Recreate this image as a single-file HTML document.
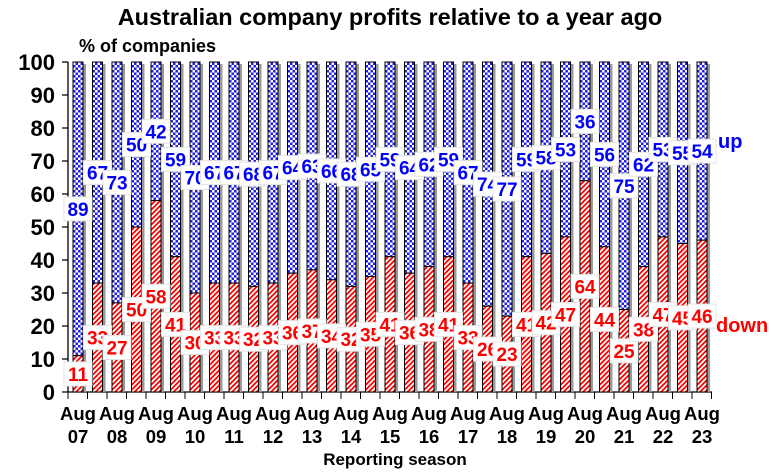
<!DOCTYPE html>
<html><head><meta charset="utf-8"><style>
body{margin:0;background:#fff}
svg{display:block;font-family:"Liberation Sans",Arial,sans-serif;font-weight:bold}
.s{fill:#999}
.u{fill:url(#chk);stroke:#000;stroke-width:1}
.d{fill:url(#str);stroke:#000;stroke-width:1}
.lb rect{fill:#fff;stroke:#e4e4e4;stroke-width:1}
.lb text{font-size:19px;text-anchor:middle}
.r text{fill:#f00}.b text{fill:#00f}
.ax{font-size:22px;text-anchor:end}
.xl{font-size:18.5px;text-anchor:middle}
</style></head><body>
<svg width="777" height="473" viewBox="0 0 777 473">
<defs>
<pattern id="chk" width="5" height="5" patternUnits="userSpaceOnUse"><rect width="5" height="5" fill="#fff"/><rect width="2.5" height="2.5" fill="#2020e0"/><rect x="2.5" y="2.5" width="2.5" height="2.5" fill="#2020e0"/></pattern>
<pattern id="str" width="5" height="5" patternUnits="userSpaceOnUse"><rect width="5" height="5" fill="#fff"/><path d="M-1,6 L6,-1 M-1,1 L1,-1 M4,6 L6,4" stroke="#f00" stroke-width="1.8"/></pattern>
<g id="sh"><rect class="s" x="-2" y="64" width="10" height="328"/></g>
</defs>
<text x="390" y="25" font-size="23.5" text-anchor="middle">Australian company profits relative to a year ago</text>
<text x="79" y="52" font-size="18">% of companies</text>
<g class="ax">
<text x="55" y="70">100</text><text x="55" y="103">90</text><text x="55" y="136">80</text><text x="55" y="169">70</text><text x="55" y="202">60</text><text x="55" y="235">50</text><text x="55" y="268">40</text><text x="55" y="301">30</text><text x="55" y="334">20</text><text x="55" y="367">10</text><text x="55" y="400">0</text>
</g>
<path d="M68,62V392M62,62H68M62,95H68M62,128H68M62,161H68M62,194H68M62,227H68M62,260H68M62,293H68M62,326H68M62,359H68M62,392H712" stroke="#000" stroke-width="1.3" fill="none"/>
<g id="bars">
<g transform="translate(78,0)"><use href="#sh"/><rect class="u" x="-5" y="62" width="10" height="293.7"/><rect class="d" x="-5" y="355.7" width="10" height="36.3"/></g>
<g transform="translate(97.5,0)"><use href="#sh"/><rect class="u" x="-5" y="62" width="10" height="221.1"/><rect class="d" x="-5" y="283.1" width="10" height="108.9"/></g>
<g transform="translate(117,0)"><use href="#sh"/><rect class="u" x="-5" y="62" width="10" height="240.9"/><rect class="d" x="-5" y="302.9" width="10" height="89.1"/></g>
<g transform="translate(136.5,0)"><use href="#sh"/><rect class="u" x="-5" y="62" width="10" height="165"/><rect class="d" x="-5" y="227" width="10" height="165"/></g>
<g transform="translate(156,0)"><use href="#sh"/><rect class="u" x="-5" y="62" width="10" height="138.6"/><rect class="d" x="-5" y="200.6" width="10" height="191.4"/></g>
<g transform="translate(175.5,0)"><use href="#sh"/><rect class="u" x="-5" y="62" width="10" height="194.7"/><rect class="d" x="-5" y="256.7" width="10" height="135.3"/></g>
<g transform="translate(195,0)"><use href="#sh"/><rect class="u" x="-5" y="62" width="10" height="231"/><rect class="d" x="-5" y="293" width="10" height="99"/></g>
<g transform="translate(214.5,0)"><use href="#sh"/><rect class="u" x="-5" y="62" width="10" height="221.1"/><rect class="d" x="-5" y="283.1" width="10" height="108.9"/></g>
<g transform="translate(234,0)"><use href="#sh"/><rect class="u" x="-5" y="62" width="10" height="221.1"/><rect class="d" x="-5" y="283.1" width="10" height="108.9"/></g>
<g transform="translate(253.5,0)"><use href="#sh"/><rect class="u" x="-5" y="62" width="10" height="224.4"/><rect class="d" x="-5" y="286.4" width="10" height="105.6"/></g>
<g transform="translate(273,0)"><use href="#sh"/><rect class="u" x="-5" y="62" width="10" height="221.1"/><rect class="d" x="-5" y="283.1" width="10" height="108.9"/></g>
<g transform="translate(292.5,0)"><use href="#sh"/><rect class="u" x="-5" y="62" width="10" height="211.2"/><rect class="d" x="-5" y="273.2" width="10" height="118.8"/></g>
<g transform="translate(312,0)"><use href="#sh"/><rect class="u" x="-5" y="62" width="10" height="207.9"/><rect class="d" x="-5" y="269.9" width="10" height="122.1"/></g>
<g transform="translate(331.5,0)"><use href="#sh"/><rect class="u" x="-5" y="62" width="10" height="217.8"/><rect class="d" x="-5" y="279.8" width="10" height="112.2"/></g>
<g transform="translate(351,0)"><use href="#sh"/><rect class="u" x="-5" y="62" width="10" height="224.4"/><rect class="d" x="-5" y="286.4" width="10" height="105.6"/></g>
<g transform="translate(370.5,0)"><use href="#sh"/><rect class="u" x="-5" y="62" width="10" height="214.5"/><rect class="d" x="-5" y="276.5" width="10" height="115.5"/></g>
<g transform="translate(390,0)"><use href="#sh"/><rect class="u" x="-5" y="62" width="10" height="194.7"/><rect class="d" x="-5" y="256.7" width="10" height="135.3"/></g>
<g transform="translate(409.5,0)"><use href="#sh"/><rect class="u" x="-5" y="62" width="10" height="211.2"/><rect class="d" x="-5" y="273.2" width="10" height="118.8"/></g>
<g transform="translate(429,0)"><use href="#sh"/><rect class="u" x="-5" y="62" width="10" height="204.6"/><rect class="d" x="-5" y="266.6" width="10" height="125.4"/></g>
<g transform="translate(448.5,0)"><use href="#sh"/><rect class="u" x="-5" y="62" width="10" height="194.7"/><rect class="d" x="-5" y="256.7" width="10" height="135.3"/></g>
<g transform="translate(468,0)"><use href="#sh"/><rect class="u" x="-5" y="62" width="10" height="221.1"/><rect class="d" x="-5" y="283.1" width="10" height="108.9"/></g>
<g transform="translate(487.5,0)"><use href="#sh"/><rect class="u" x="-5" y="62" width="10" height="244.2"/><rect class="d" x="-5" y="306.2" width="10" height="85.8"/></g>
<g transform="translate(507,0)"><use href="#sh"/><rect class="u" x="-5" y="62" width="10" height="254.1"/><rect class="d" x="-5" y="316.1" width="10" height="75.9"/></g>
<g transform="translate(526.5,0)"><use href="#sh"/><rect class="u" x="-5" y="62" width="10" height="194.7"/><rect class="d" x="-5" y="256.7" width="10" height="135.3"/></g>
<g transform="translate(546,0)"><use href="#sh"/><rect class="u" x="-5" y="62" width="10" height="191.4"/><rect class="d" x="-5" y="253.4" width="10" height="138.6"/></g>
<g transform="translate(565.5,0)"><use href="#sh"/><rect class="u" x="-5" y="62" width="10" height="174.9"/><rect class="d" x="-5" y="236.9" width="10" height="155.1"/></g>
<g transform="translate(585,0)"><use href="#sh"/><rect class="u" x="-5" y="62" width="10" height="118.8"/><rect class="d" x="-5" y="180.8" width="10" height="211.2"/></g>
<g transform="translate(604.5,0)"><use href="#sh"/><rect class="u" x="-5" y="62" width="10" height="184.8"/><rect class="d" x="-5" y="246.8" width="10" height="145.2"/></g>
<g transform="translate(624,0)"><use href="#sh"/><rect class="u" x="-5" y="62" width="10" height="247.5"/><rect class="d" x="-5" y="309.5" width="10" height="82.5"/></g>
<g transform="translate(643.5,0)"><use href="#sh"/><rect class="u" x="-5" y="62" width="10" height="204.6"/><rect class="d" x="-5" y="266.6" width="10" height="125.4"/></g>
<g transform="translate(663,0)"><use href="#sh"/><rect class="u" x="-5" y="62" width="10" height="174.9"/><rect class="d" x="-5" y="236.9" width="10" height="155.1"/></g>
<g transform="translate(682.5,0)"><use href="#sh"/><rect class="u" x="-5" y="62" width="10" height="181.5"/><rect class="d" x="-5" y="243.5" width="10" height="148.5"/></g>
<g transform="translate(702,0)"><use href="#sh"/><rect class="u" x="-5" y="62" width="10" height="178.2"/><rect class="d" x="-5" y="240.2" width="10" height="151.8"/></g>
</g>
<g class="lb">
<g class="r" transform="translate(78,373.9)"><rect x="-14" y="-12" width="28" height="24"/><text y="7">11</text></g>
<g class="b" transform="translate(78,208.9)"><rect x="-14" y="-12" width="28" height="24"/><text y="7">89</text></g>
<g class="r" transform="translate(97.5,337.6)"><rect x="-14" y="-12" width="28" height="24"/><text y="7">33</text></g>
<g class="b" transform="translate(97.5,172.6)"><rect x="-14" y="-12" width="28" height="24"/><text y="7">67</text></g>
<g class="r" transform="translate(117,347.5)"><rect x="-14" y="-12" width="28" height="24"/><text y="7">27</text></g>
<g class="b" transform="translate(117,182.5)"><rect x="-14" y="-12" width="28" height="24"/><text y="7">73</text></g>
<g class="r" transform="translate(136.5,309.5)"><rect x="-14" y="-12" width="28" height="24"/><text y="7">50</text></g>
<g class="b" transform="translate(136.5,144.5)"><rect x="-14" y="-12" width="28" height="24"/><text y="7">50</text></g>
<g class="r" transform="translate(156,296.3)"><rect x="-14" y="-12" width="28" height="24"/><text y="7">58</text></g>
<g class="b" transform="translate(156,131.3)"><rect x="-14" y="-12" width="28" height="24"/><text y="7">42</text></g>
<g class="r" transform="translate(175.5,324.4)"><rect x="-14" y="-12" width="28" height="24"/><text y="7">41</text></g>
<g class="b" transform="translate(175.5,159.4)"><rect x="-14" y="-12" width="28" height="24"/><text y="7">59</text></g>
<g class="r" transform="translate(195,342.5)"><rect x="-14" y="-12" width="28" height="24"/><text y="7">30</text></g>
<g class="b" transform="translate(195,177.5)"><rect x="-14" y="-12" width="28" height="24"/><text y="7">70</text></g>
<g class="r" transform="translate(214.5,337.6)"><rect x="-14" y="-12" width="28" height="24"/><text y="7">33</text></g>
<g class="b" transform="translate(214.5,172.6)"><rect x="-14" y="-12" width="28" height="24"/><text y="7">67</text></g>
<g class="r" transform="translate(234,337.6)"><rect x="-14" y="-12" width="28" height="24"/><text y="7">33</text></g>
<g class="b" transform="translate(234,172.6)"><rect x="-14" y="-12" width="28" height="24"/><text y="7">67</text></g>
<g class="r" transform="translate(253.5,339.2)"><rect x="-14" y="-12" width="28" height="24"/><text y="7">32</text></g>
<g class="b" transform="translate(253.5,174.2)"><rect x="-14" y="-12" width="28" height="24"/><text y="7">68</text></g>
<g class="r" transform="translate(273,337.6)"><rect x="-14" y="-12" width="28" height="24"/><text y="7">33</text></g>
<g class="b" transform="translate(273,172.6)"><rect x="-14" y="-12" width="28" height="24"/><text y="7">67</text></g>
<g class="r" transform="translate(292.5,332.6)"><rect x="-14" y="-12" width="28" height="24"/><text y="7">36</text></g>
<g class="b" transform="translate(292.5,167.6)"><rect x="-14" y="-12" width="28" height="24"/><text y="7">64</text></g>
<g class="r" transform="translate(312,331)"><rect x="-14" y="-12" width="28" height="24"/><text y="7">37</text></g>
<g class="b" transform="translate(312,166)"><rect x="-14" y="-12" width="28" height="24"/><text y="7">63</text></g>
<g class="r" transform="translate(331.5,335.9)"><rect x="-14" y="-12" width="28" height="24"/><text y="7">34</text></g>
<g class="b" transform="translate(331.5,170.9)"><rect x="-14" y="-12" width="28" height="24"/><text y="7">66</text></g>
<g class="r" transform="translate(351,339.2)"><rect x="-14" y="-12" width="28" height="24"/><text y="7">32</text></g>
<g class="b" transform="translate(351,174.2)"><rect x="-14" y="-12" width="28" height="24"/><text y="7">68</text></g>
<g class="r" transform="translate(370.5,334.3)"><rect x="-14" y="-12" width="28" height="24"/><text y="7">35</text></g>
<g class="b" transform="translate(370.5,169.3)"><rect x="-14" y="-12" width="28" height="24"/><text y="7">65</text></g>
<g class="r" transform="translate(390,324.4)"><rect x="-14" y="-12" width="28" height="24"/><text y="7">41</text></g>
<g class="b" transform="translate(390,159.4)"><rect x="-14" y="-12" width="28" height="24"/><text y="7">59</text></g>
<g class="r" transform="translate(409.5,332.6)"><rect x="-14" y="-12" width="28" height="24"/><text y="7">36</text></g>
<g class="b" transform="translate(409.5,167.6)"><rect x="-14" y="-12" width="28" height="24"/><text y="7">64</text></g>
<g class="r" transform="translate(429,329.3)"><rect x="-14" y="-12" width="28" height="24"/><text y="7">38</text></g>
<g class="b" transform="translate(429,164.3)"><rect x="-14" y="-12" width="28" height="24"/><text y="7">62</text></g>
<g class="r" transform="translate(448.5,324.4)"><rect x="-14" y="-12" width="28" height="24"/><text y="7">41</text></g>
<g class="b" transform="translate(448.5,159.4)"><rect x="-14" y="-12" width="28" height="24"/><text y="7">59</text></g>
<g class="r" transform="translate(468,337.6)"><rect x="-14" y="-12" width="28" height="24"/><text y="7">33</text></g>
<g class="b" transform="translate(468,172.6)"><rect x="-14" y="-12" width="28" height="24"/><text y="7">67</text></g>
<g class="r" transform="translate(487.5,349.1)"><rect x="-14" y="-12" width="28" height="24"/><text y="7">26</text></g>
<g class="b" transform="translate(487.5,184.1)"><rect x="-14" y="-12" width="28" height="24"/><text y="7">74</text></g>
<g class="r" transform="translate(507,354)"><rect x="-14" y="-12" width="28" height="24"/><text y="7">23</text></g>
<g class="b" transform="translate(507,189)"><rect x="-14" y="-12" width="28" height="24"/><text y="7">77</text></g>
<g class="r" transform="translate(526.5,324.4)"><rect x="-14" y="-12" width="28" height="24"/><text y="7">41</text></g>
<g class="b" transform="translate(526.5,159.4)"><rect x="-14" y="-12" width="28" height="24"/><text y="7">59</text></g>
<g class="r" transform="translate(546,322.7)"><rect x="-14" y="-12" width="28" height="24"/><text y="7">42</text></g>
<g class="b" transform="translate(546,157.7)"><rect x="-14" y="-12" width="28" height="24"/><text y="7">58</text></g>
<g class="r" transform="translate(565.5,314.5)"><rect x="-14" y="-12" width="28" height="24"/><text y="7">47</text></g>
<g class="b" transform="translate(565.5,149.5)"><rect x="-14" y="-12" width="28" height="24"/><text y="7">53</text></g>
<g class="r" transform="translate(585,286.4)"><rect x="-14" y="-12" width="28" height="24"/><text y="7">64</text></g>
<g class="b" transform="translate(585,121.4)"><rect x="-14" y="-12" width="28" height="24"/><text y="7">36</text></g>
<g class="r" transform="translate(604.5,319.4)"><rect x="-14" y="-12" width="28" height="24"/><text y="7">44</text></g>
<g class="b" transform="translate(604.5,154.4)"><rect x="-14" y="-12" width="28" height="24"/><text y="7">56</text></g>
<g class="r" transform="translate(624,350.8)"><rect x="-14" y="-12" width="28" height="24"/><text y="7">25</text></g>
<g class="b" transform="translate(624,185.8)"><rect x="-14" y="-12" width="28" height="24"/><text y="7">75</text></g>
<g class="r" transform="translate(643.5,329.3)"><rect x="-14" y="-12" width="28" height="24"/><text y="7">38</text></g>
<g class="b" transform="translate(643.5,164.3)"><rect x="-14" y="-12" width="28" height="24"/><text y="7">62</text></g>
<g class="r" transform="translate(663,314.5)"><rect x="-14" y="-12" width="28" height="24"/><text y="7">47</text></g>
<g class="b" transform="translate(663,149.5)"><rect x="-14" y="-12" width="28" height="24"/><text y="7">53</text></g>
<g class="r" transform="translate(682.5,317.8)"><rect x="-14" y="-12" width="28" height="24"/><text y="7">45</text></g>
<g class="b" transform="translate(682.5,152.8)"><rect x="-14" y="-12" width="28" height="24"/><text y="7">55</text></g>
<g class="r" transform="translate(702,316.1)"><rect x="-14" y="-12" width="28" height="24"/><text y="7">46</text></g>
<g class="b" transform="translate(702,151.1)"><rect x="-14" y="-12" width="28" height="24"/><text y="7">54</text></g>
</g>
<text x="718" y="148" font-size="20" fill="#00f">up</text>
<text x="716" y="332" font-size="20" fill="#f00">down</text>
<path d="M68,392v7M87.5,392v7M107,392v7M126.5,392v7M146,392v7M165.5,392v7M185,392v7M204.5,392v7M224,392v7M243.5,392v7M263,392v7M282.5,392v7M302,392v7M321.5,392v7M341,392v7M360.5,392v7M380,392v7M399.5,392v7M419,392v7M438.5,392v7M458,392v7M477.5,392v7M497,392v7M516.5,392v7M536,392v7M555.5,392v7M575,392v7M594.5,392v7M614,392v7M633.5,392v7M653,392v7M672.5,392v7M692,392v7M711.5,392v7" stroke="#000" stroke-width="1"/>
<g class="xl">
<text x="78" y="420">Aug</text><text x="78" y="443">07</text>
<text x="117" y="420">Aug</text><text x="117" y="443">08</text>
<text x="156" y="420">Aug</text><text x="156" y="443">09</text>
<text x="195" y="420">Aug</text><text x="195" y="443">10</text>
<text x="234" y="420">Aug</text><text x="234" y="443">11</text>
<text x="273" y="420">Aug</text><text x="273" y="443">12</text>
<text x="312" y="420">Aug</text><text x="312" y="443">13</text>
<text x="351" y="420">Aug</text><text x="351" y="443">14</text>
<text x="390" y="420">Aug</text><text x="390" y="443">15</text>
<text x="429" y="420">Aug</text><text x="429" y="443">16</text>
<text x="468" y="420">Aug</text><text x="468" y="443">17</text>
<text x="507" y="420">Aug</text><text x="507" y="443">18</text>
<text x="546" y="420">Aug</text><text x="546" y="443">19</text>
<text x="585" y="420">Aug</text><text x="585" y="443">20</text>
<text x="624" y="420">Aug</text><text x="624" y="443">21</text>
<text x="663" y="420">Aug</text><text x="663" y="443">22</text>
<text x="702" y="420">Aug</text><text x="702" y="443">23</text>
</g>
<text x="395" y="465" font-size="17" text-anchor="middle">Reporting season</text>
</svg>
</body></html>
